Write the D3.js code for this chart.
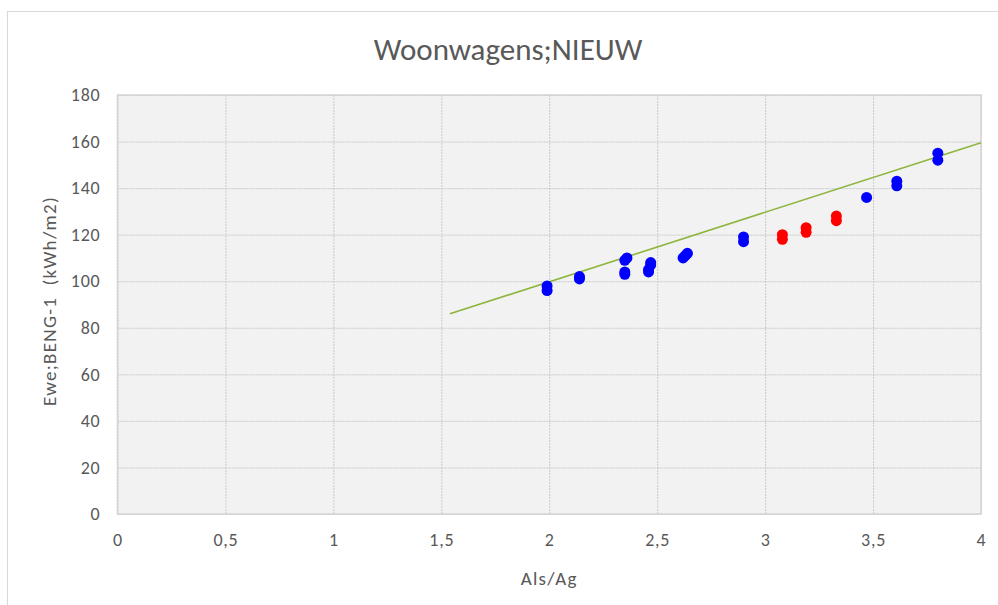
<!DOCTYPE html>
<html><head><meta charset="utf-8">
<script src="https://cdn.jsdelivr.net/npm/d3@7"></script>
<style>body{margin:0;background:#fff;}svg{display:block;}</style>
</head><body>
<svg id="c" width="998" height="605"></svg>
<script>
const title = "Woonwagens;NIEUW";
const xTitle = "Als/Ag";
const yTitle = "Ewe;BENG-1  (kWh/m2)";
const xTicks = [0, 0.5, 1, 1.5, 2, 2.5, 3, 3.5, 4];
const yTicks = [0, 20, 40, 60, 80, 100, 120, 140, 160, 180];
const blueX = [1.99,1.99, 2.14,2.14, 2.35,2.35,2.35,2.36, 2.46,2.46,2.47,2.47, 2.62,2.63,2.64, 2.90,2.90, 3.47, 3.61,3.61, 3.80,3.80];
const blueY = [96,98, 101,102, 103,104,109,110, 104,105,107,108, 110,111,112, 117,119, 136, 141,143, 152,155];
const redX = [3.08,3.08, 3.19,3.19, 3.33,3.33];
const redY = [118,120, 121,123, 126,128];
const lineX = [1.54, 4];
const lineY = [86, 159.5];

const svg = d3.select("#c");
const L = 117.5, R = 981, T = 95, B = 514;
const x = d3.scaleLinear().domain([0,4]).range([L,R]);
const y = d3.scaleLinear().domain([0,180]).range([B,T]);
const font = "Carlito, Lato, 'Open Sans', sans-serif";

// outer chart frame
svg.append("rect").attr("x",7.5).attr("y",11.5).attr("width",1100).attr("height",700)
  .attr("fill","#fff").attr("stroke","#d9d9d9").attr("stroke-width",1);

// plot area
svg.append("rect").attr("x",L).attr("y",T).attr("width",R-L).attr("height",B-T)
  .attr("fill","#f2f2f2");

// gridlines
const gx = d3.axisBottom(x).tickValues(xTicks).tickSize(-(B-T)).tickFormat("");
const gy = d3.axisLeft(y).tickValues(yTicks).tickSize(-(R-L)).tickFormat("");
svg.append("g").attr("transform",`translate(0,${B})`).call(gx)
  .call(g=>g.select(".domain").remove())
  .selectAll("line").attr("stroke","#c9c9c9").attr("stroke-dasharray","2,1");
svg.append("g").attr("transform",`translate(${L},0)`).call(gy)
  .call(g=>g.select(".domain").remove())
  .selectAll("line").attr("stroke","#c9c9c9").attr("stroke-dasharray","2,1");

// plot border
svg.append("rect").attr("x",L).attr("y",T).attr("width",R-L).attr("height",B-T)
  .attr("fill","none").attr("stroke","#d4d4d4").attr("stroke-width",1.5);

// axes labels
const ax = d3.axisBottom(x).tickValues(xTicks).tickSize(0).tickPadding(19)
  .tickFormat(d=>String(d).replace(".",","));
svg.append("g").attr("transform",`translate(0,${B})`).call(ax)
  .call(g=>g.select(".domain").remove())
  .selectAll("text").attr("fill","#595959").style("font-family",font).style("font-size","18px")
  .style("letter-spacing","0.8px");
const ay = d3.axisLeft(y).tickValues(yTicks).tickSize(0).tickPadding(17);
svg.append("g").attr("transform",`translate(${L},0)`).call(ay)
  .call(g=>g.select(".domain").remove())
  .selectAll("text").attr("fill","#595959").style("font-family",font).style("font-size","18px")
  .style("letter-spacing","0.8px");

// trend line
svg.append("path").datum(lineX.map((v,i)=>[v,lineY[i]]))
  .attr("d", d3.line().x(d=>x(d[0])).y(d=>y(d[1])))
  .attr("fill","none").attr("stroke","#8db53c").attr("stroke-width",1.6);

// points
svg.append("g").selectAll("circle").data(blueX.map((v,i)=>[v,blueY[i]])).join("circle")
  .attr("cx",d=>x(d[0])).attr("cy",d=>y(d[1])).attr("r",5.5).attr("fill","#0000ff");
svg.append("g").selectAll("circle").data(redX.map((v,i)=>[v,redY[i]])).join("circle")
  .attr("cx",d=>x(d[0])).attr("cy",d=>y(d[1])).attr("r",5.5).attr("fill","#ff0000");

// titles
svg.append("text").attr("x",508).attr("y",60).attr("text-anchor","middle")
  .attr("fill","#595959").style("font-family",font).style("font-size","31px").text(title);
svg.append("text").attr("x",x(2)).attr("y",585).attr("text-anchor","middle")
  .attr("fill","#595959").style("font-family",font).style("font-size","19px")
  .style("letter-spacing","1.3px").text(xTitle);
svg.append("text").attr("transform",`translate(56,301) rotate(-90)`).attr("text-anchor","middle")
  .attr("fill","#595959").style("font-family",font).style("font-size","19px")
  .style("letter-spacing","1.3px").style("white-space","pre").text(yTitle);
</script>
</body></html>
